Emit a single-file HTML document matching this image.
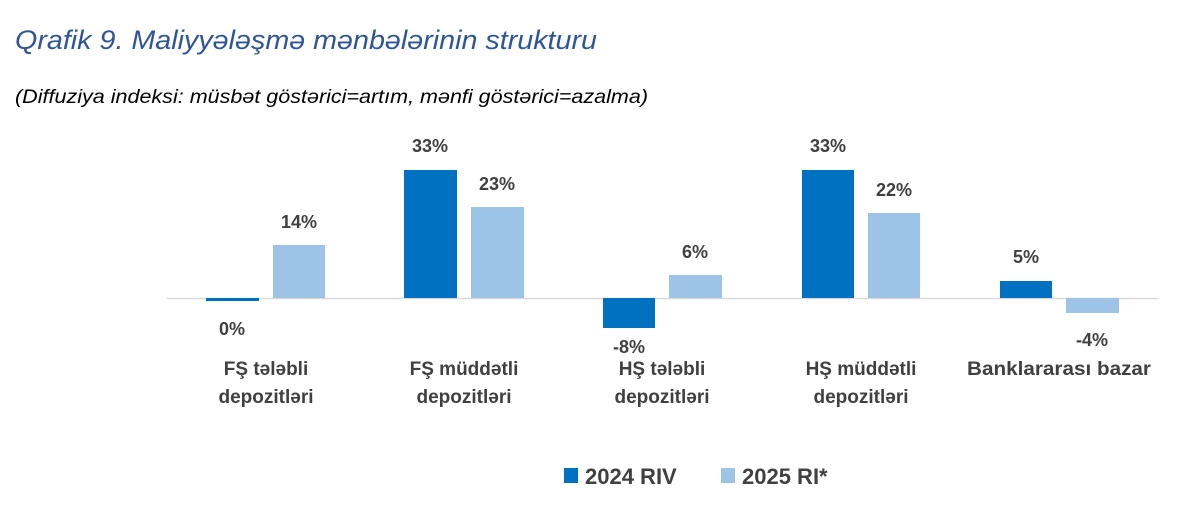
<!DOCTYPE html>
<html><head><meta charset="utf-8"><style>
html,body{margin:0;padding:0;background:#fff;}
svg{display:block;}
.t{font-family:"Liberation Sans",sans-serif;font-style:italic;fill:#2F5597;}
.s{font-family:"Liberation Sans",sans-serif;font-style:italic;fill:#000;}
.v{font-family:"Liberation Sans",sans-serif;font-weight:bold;font-size:18px;fill:#404040;text-anchor:middle;}
.c{font-family:"Liberation Sans",sans-serif;font-weight:bold;font-size:19px;fill:#404040;text-anchor:middle;}
.l{font-family:"Liberation Sans",sans-serif;font-weight:bold;font-size:22px;fill:#404040;}
</style></head><body>
<svg width="1204" height="520" viewBox="0 0 1204 520">
<text class="t" x="15" y="49" font-size="27" textLength="582" lengthAdjust="spacingAndGlyphs">Qrafik 9. Maliyyələşmə mənbələrinin strukturu</text>
<text class="s" x="15" y="103" font-size="19" textLength="633" lengthAdjust="spacingAndGlyphs">(Diffuziya indeksi: müsbət göstərici=artım, mənfi göstərici=azalma)</text>
<line x1="167" y1="298.5" x2="1158" y2="298.5" stroke="#D9D9D9" stroke-width="1.5"/>
<g fill="#0070C0">
<rect x="206" y="298" width="53" height="3"/>
<rect x="404" y="170" width="53" height="128"/>
<rect x="603" y="298" width="52" height="30"/>
<rect x="802" y="170" width="52" height="128"/>
<rect x="1000" y="281" width="52" height="17"/>
</g>
<g fill="#9DC3E6">
<rect x="273" y="245" width="52" height="53"/>
<rect x="471" y="207" width="53" height="91"/>
<rect x="669" y="275" width="53" height="23"/>
<rect x="868" y="213" width="52" height="85"/>
<rect x="1066" y="298" width="53" height="15"/>
</g>
<text class="v" x="232" y="335">0%</text>
<text class="v" x="299" y="228">14%</text>
<text class="v" x="430" y="152">33%</text>
<text class="v" x="497" y="190">23%</text>
<text class="v" x="629" y="353">-8%</text>
<text class="v" x="695" y="258">6%</text>
<text class="v" x="828" y="152">33%</text>
<text class="v" x="894" y="196">22%</text>
<text class="v" x="1026" y="263">5%</text>
<text class="v" x="1092" y="346">-4%</text>
<text class="c" x="266" y="375">FŞ tələbli</text>
<text class="c" x="266" y="403">depozitləri</text>
<text class="c" x="464" y="375">FŞ müddətli</text>
<text class="c" x="464" y="403">depozitləri</text>
<text class="c" x="662" y="375">HŞ  tələbli</text>
<text class="c" x="662" y="403">depozitləri</text>
<text class="c" x="861" y="375">HŞ müddətli</text>
<text class="c" x="861" y="403">depozitləri</text>
<text class="c" x="1059" y="375" textLength="184" lengthAdjust="spacingAndGlyphs">Banklararası  bazar</text>
<rect x="564" y="468" width="14" height="15" fill="#0070C0"/>
<text class="l" x="585" y="484">2024 RIV</text>
<rect x="721" y="468" width="14" height="15" fill="#9DC3E6"/>
<text class="l" x="742" y="484">2025 RI*</text>
</svg>
</body></html>
